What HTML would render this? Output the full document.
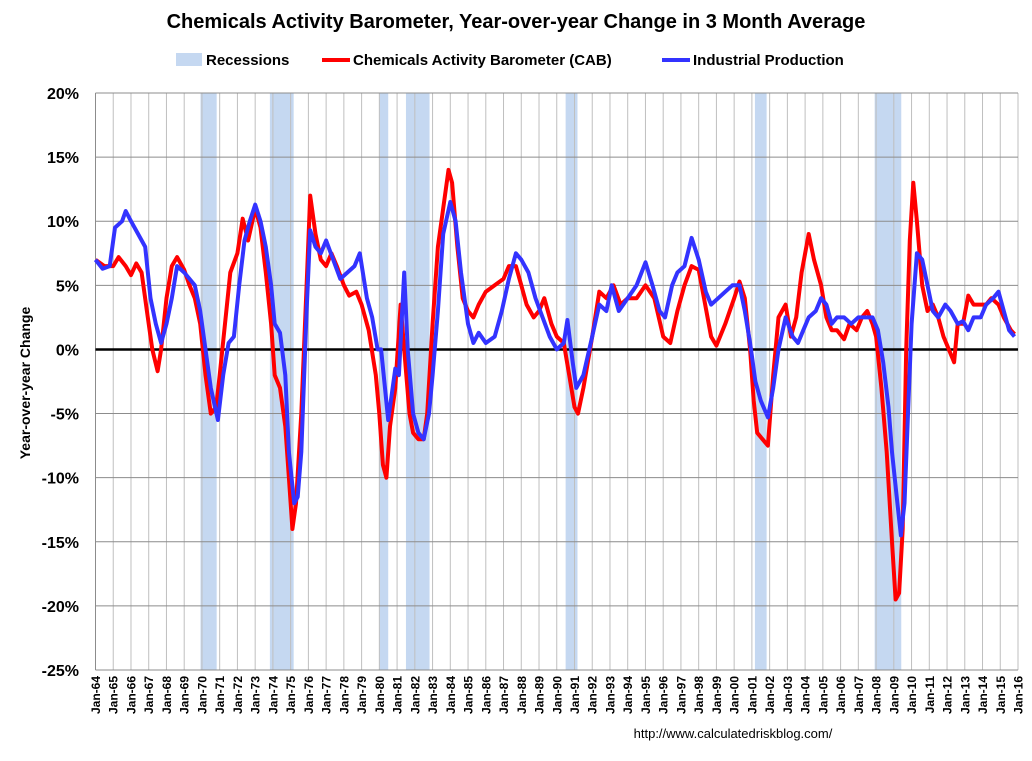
<!DOCTYPE html>
<html><head><meta charset="utf-8"><style>
body{margin:0;background:#fff;font-family:"Liberation Sans",sans-serif}
svg text{font-family:"Liberation Sans",sans-serif}
</style></head><body>
<svg id="c" width="1032" height="756" xmlns="http://www.w3.org/2000/svg">
<text x="516" y="28" text-anchor="middle" font-size="20" font-weight="bold" fill="#000">Chemicals Activity Barometer, Year-over-year Change in 3 Month Average</text>
<g>
<rect x="176" y="53" width="26" height="13" fill="#c5d8f1"/>
<text x="206" y="65" font-size="15" font-weight="bold">Recessions</text>
<line x1="322" y1="60" x2="350" y2="60" stroke="#f00" stroke-width="4"/>
<text x="353" y="65" font-size="15" font-weight="bold">Chemicals Activity Barometer (CAB)</text>
<line x1="662" y1="60" x2="690" y2="60" stroke="#3333ff" stroke-width="4"/>
<text x="693" y="65" font-size="15" font-weight="bold">Industrial Production</text>
</g>
<text transform="translate(30,383) rotate(-90)" text-anchor="middle" font-size="14" font-weight="bold">Year-over-year Change</text>
<text x="733" y="738" text-anchor="middle" font-size="13" font-family="Liberation Serif">http://www.calculatedriskblog.com/</text>
<g id="rec"></g><g id="grid"></g><g id="axes"></g><g id="series"></g>
</svg>
<script>
const recStart=[1969.92,1973.83,1980.0,1981.5,1990.5,2001.17,2007.92];
const recEnd=[1970.83,1975.17,1980.5,1982.83,1991.17,2001.83,2009.42];
const yTicks=[20,15,10,5,0,-5,-10,-15,-20,-25];
const cabT=[1964.0,1964.5,1965.0,1965.3,1965.7,1966.0,1966.3,1966.6,1966.9,1967.2,1967.5,1967.7,1968.0,1968.3,1968.6,1969.0,1969.3,1969.6,1969.9,1970.2,1970.5,1970.8,1971.0,1971.3,1971.6,1972.0,1972.3,1972.6,1973.0,1973.3,1973.6,1973.9,1974.1,1974.4,1974.7,1974.9,1975.1,1975.3,1975.6,1975.9,1976.1,1976.4,1976.7,1977.0,1977.3,1977.6,1978.0,1978.3,1978.7,1979.0,1979.4,1979.8,1980.0,1980.2,1980.4,1980.6,1980.9,1981.2,1981.4,1981.7,1981.9,1982.2,1982.5,1982.7,1983.0,1983.3,1983.6,1983.9,1984.1,1984.4,1984.7,1985.0,1985.3,1985.6,1986.0,1986.5,1987.0,1987.3,1987.7,1988.0,1988.3,1988.7,1989.0,1989.3,1989.7,1990.0,1990.4,1990.7,1991.0,1991.2,1991.5,1992.0,1992.4,1992.8,1993.2,1993.6,1994.0,1994.5,1995.0,1995.5,1996.0,1996.4,1996.8,1997.2,1997.6,1998.0,1998.3,1998.7,1999.0,1999.5,2000.0,2000.3,2000.6,2000.9,2001.1,2001.3,2001.6,2001.9,2002.2,2002.5,2002.9,2003.2,2003.5,2003.8,2004.2,2004.5,2004.9,2005.2,2005.5,2005.8,2006.2,2006.5,2006.9,2007.2,2007.5,2007.8,2008.0,2008.3,2008.6,2008.9,2009.1,2009.3,2009.5,2009.7,2009.9,2010.1,2010.3,2010.6,2010.9,2011.2,2011.5,2011.8,2012.1,2012.4,2012.6,2012.9,2013.2,2013.5,2013.8,2014.2,2014.5,2014.9,2015.2,2015.6,2015.8];
const cabV=[7,6.5,6.5,7.2,6.5,5.8,6.7,6,3,0,-1.7,0,4,6.5,7.2,6.2,5,4,2,-2,-5,-4.5,-2,2,6,7.5,10.2,8.5,11,9.5,6,2,-2,-3,-6,-10,-14,-12,-5,5,12,9,7,6.5,7.5,6.5,5,4.2,4.5,3.5,1.5,-2,-5,-9,-10,-6,-3,3.5,0,-5,-6.5,-7,-7,-5,2,8,11,14,13,8,4,3,2.5,3.5,4.5,5,5.5,6.5,6.5,5,3.5,2.5,3,4,2,1,0.5,-2,-4.5,-5,-3,1,4.5,4,5,3.5,4,4,5,4,1,0.5,3,5,6.5,6.2,4,1,0.3,2,4,5.3,4,0,-4,-6.5,-7,-7.5,-2,2.5,3.5,1,2.5,6,9,7,5,2.5,1.5,1.5,0.8,2,1.5,2.5,3,2,1,-3,-8,-15,-19.5,-19,-14,0,8.5,13,10,5,3,3.5,2.5,1,0,-1,2,2,4.2,3.5,3.5,3.5,4,3.5,2.5,1.5,1.2];
const ipT=[1964.0,1964.4,1964.8,1965.1,1965.5,1965.7,1966.0,1966.4,1966.8,1967.1,1967.4,1967.7,1968.0,1968.3,1968.6,1969.0,1969.3,1969.6,1969.9,1970.2,1970.5,1970.9,1971.2,1971.5,1971.8,1972.1,1972.4,1972.7,1973.0,1973.3,1973.6,1973.9,1974.1,1974.4,1974.7,1974.9,1975.2,1975.4,1975.6,1975.9,1976.1,1976.4,1976.7,1977.0,1977.4,1977.8,1978.2,1978.6,1978.9,1979.3,1979.6,1979.9,1980.1,1980.5,1980.9,1981.1,1981.4,1981.6,1981.9,1982.2,1982.5,1982.8,1983.0,1983.3,1983.6,1984.0,1984.3,1984.6,1985.0,1985.3,1985.6,1986.0,1986.5,1986.9,1987.3,1987.7,1988.0,1988.4,1988.8,1989.2,1989.6,1990.0,1990.4,1990.6,1990.9,1991.1,1991.5,1992.0,1992.4,1992.8,1993.1,1993.5,1994.0,1994.5,1995.0,1995.4,1995.8,1996.1,1996.5,1996.8,1997.2,1997.6,1998.0,1998.4,1998.7,1999.1,1999.5,1999.9,2000.3,2000.6,2000.9,2001.2,2001.5,2001.9,2002.2,2002.5,2002.9,2003.3,2003.6,2003.9,2004.2,2004.6,2004.9,2005.2,2005.5,2005.8,2006.2,2006.6,2007.0,2007.4,2007.8,2008.1,2008.4,2008.7,2008.9,2009.2,2009.4,2009.6,2009.8,2010.0,2010.3,2010.6,2010.9,2011.2,2011.5,2011.9,2012.2,2012.6,2012.9,2013.2,2013.5,2013.9,2014.2,2014.6,2014.9,2015.2,2015.5,2015.8];
const ipV=[7,6.3,6.5,9.5,10,10.8,10,9,8,4,2,0.5,2,4,6.5,6,5.5,5,3,0,-3,-5.5,-2,0.5,1,5,8.5,10,11.3,10,8,5,2,1.3,-2,-8,-12,-11.5,-8,3,9.3,8,7.5,8.5,7,5.5,6,6.5,7.5,4,2.5,0,0,-5.5,-1.5,-2,6,0,-5,-6.5,-7,-5,-2,3,9,11.5,10,6,2,0.5,1.3,0.5,1,3,5.5,7.5,7,6,4,2.5,1,0,0.5,2.3,-1,-3,-2,1,3.5,3,5,3,4,5,6.8,5,3,2.5,5,6,6.5,8.7,7,4.5,3.5,4,4.5,5,5,3,0.5,-2.5,-4,-5.3,-3,0,2.5,1,0.5,1.5,2.5,3,4,3.5,2,2.5,2.5,2,2.5,2.5,2.5,1.5,-1,-4.5,-8,-12,-14.5,-12,-5,2,7.5,7,5,3,2.5,3.5,3,2,2.2,1.5,2.5,2.5,3.5,4,4.5,3,1.5,1];
const NS='http://www.w3.org/2000/svg';
const L=95.5,R=1018,T=93,B=670,Y0=1964,Y1=2016;
const xs=t=>L+(t-Y0)*(R-L)/(Y1-Y0);
const ys=v=>T+(20-v)*(B-T)/45;
function mk(tag,attrs,parent){const e=document.createElementNS(NS,tag);for(const k in attrs)e.setAttribute(k,attrs[k]);document.getElementById(parent).appendChild(e);return e;}
recStart.forEach((s,i)=>{const r=mk('rect',{x:xs(s),y:T,width:xs(recEnd[i])-xs(s),height:B-T,fill:'#c5d8f1'},'rec');

});
for(let y=Y0;y<=Y1;y++){const x=xs(y);
const g=mk('line',{x1:x,y1:T,x2:x,y2:B,stroke:'#bfbfbf','stroke-width':1},'grid');


const tk=mk('text',{transform:`translate(${x+4.5},676) rotate(-90)`,'text-anchor':'end','font-size':12,'font-weight':'bold'},'axes');
tk.textContent='Jan-'+String(y%100).padStart(2,'0');

}
yTicks.forEach(v=>{const y=ys(v);
const g=mk('line',{x1:L,y1:y,x2:R,y2:y,stroke:'#8c8c8c','stroke-width':1},'grid');


const t=mk('text',{x:79,y:y+6,'text-anchor':'end','font-size':16,'font-weight':'bold'},'axes');
t.textContent=v+'%';

});
const ax=mk('line',{x1:L,y1:T,x2:L,y2:B,stroke:'#8c8c8c','stroke-width':1},'axes');


const z=mk('line',{x1:L,y1:ys(0),x2:R,y2:ys(0),stroke:'#000','stroke-width':2.5},'axes');


function line(ts,vs,col,name){const p=mk('polyline',{points:ts.map((t,i)=>xs(t).toFixed(1)+','+ys(vs[i]).toFixed(1)).join(' '),fill:'none',stroke:col,'stroke-width':4,'stroke-linejoin':'round'},'series');

}
line(cabT,cabV,'#ff0000','cab-line');
line(ipT,ipV,'#3333ff','industrial-production-line');
</script>
</body></html>
